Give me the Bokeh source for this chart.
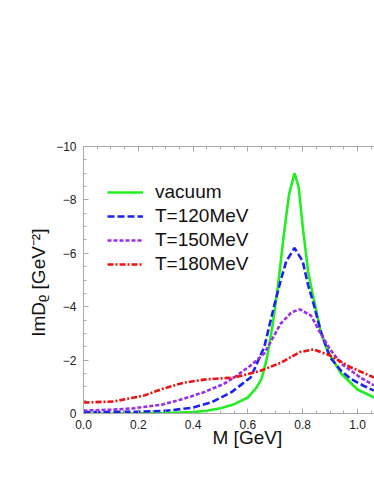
from bokeh.plotting import figure
from bokeh.models import (Range1d, FixedTicker, LinearAxis, Legend, LegendItem, Label)
from bokeh.embed import file_html
from bokeh.resources import INLINE

# ---- data; values are Im D_rho in GeV^-2 (negative) ----
m_vac = [0.0, 0.2, 0.3, 0.4, 0.45, 0.5, 0.55, 0.6, 0.63, 0.65, 0.67, 0.69, 0.71, 0.73,
         0.75, 0.77, 0.785, 0.80, 0.82, 0.84, 0.865, 0.89, 0.94, 1.0, 1.06]
d_vac = [0.0, 0.01, 0.02, 0.05, 0.1, 0.2, 0.35, 0.6, 0.95, 1.3, 2.1, 3.3, 4.8, 6.6,
         8.2, 9.0, 8.5, 7.0, 5.3, 4.3, 3.1, 2.35, 1.5, 0.9, 0.6]

m_120 = [0.0, 0.2, 0.3, 0.4, 0.47, 0.54, 0.61, 0.66, 0.695, 0.72, 0.74, 0.77, 0.8,
         0.82, 0.84, 0.865, 0.9, 0.94, 0.975, 1.02, 1.06]
d_120 = [0.05, 0.07, 0.1, 0.22, 0.43, 0.8, 1.35, 2.5, 4.0, 5.0, 5.7, 6.2, 5.7,
         4.8, 4.1, 3.1, 2.1, 1.6, 1.3, 1.05, 0.86]

m_150 = [0.0, 0.1, 0.18, 0.29, 0.365, 0.44, 0.51, 0.55, 0.61, 0.66, 0.72, 0.76, 0.79,
         0.83, 0.865, 0.9, 0.94, 1.01, 1.06]
d_150 = [0.11, 0.14, 0.19, 0.34, 0.55, 0.8, 1.1, 1.35, 1.8, 2.25, 3.37, 3.8, 3.9,
         3.67, 3.0, 2.4, 1.87, 1.35, 1.05]

m_180 = [0.0, 0.11, 0.22, 0.29, 0.365, 0.44, 0.55, 0.646, 0.72, 0.79, 0.84, 0.9, 0.975, 1.06]
d_180 = [0.41, 0.45, 0.67, 0.93, 1.15, 1.27, 1.35, 1.6, 1.9, 2.3, 2.4, 2.17, 1.73, 1.35]

series_names = ["vacuum", "T=120MeV", "T=150MeV", "T=180MeV"]
x_ticks = [0.0, 0.2, 0.4, 0.6, 0.8, 1.0]
y_ticks = [0, -2, -4, -6, -8, -10]
x_title = "M [GeV]"
y_title = "ImD\u1d68  [GeV\u207b\u00b2]"

FONT = "Liberation Sans"

p = figure(width=374, height=476, output_backend="svg", toolbar_location=None,
           x_range=Range1d(0.0, 1.062), y_range=Range1d(0, -10),
           min_border_left=83, min_border_right=0, min_border_top=146, min_border_bottom=63,
           background_fill_color="white", border_fill_color="white",
           x_axis_location="below", y_axis_location="left")
p.outline_line_color = None
p.xgrid.visible = False
p.ygrid.visible = False

styles = [
    dict(color="#22ee22", line_dash="solid"),
    dict(color="#1a22ee", line_dash="7 3"),
    dict(color="#9a2ee6", line_dash="4 2"),
    dict(color="#ee1111", line_dash="6 2 2 2"),
]
data = [(m_vac, d_vac), (m_120, d_120), (m_150, d_150), (m_180, d_180)]
renderers = []
for (mx, dy), st in zip(data, styles):
    r = p.line(mx, [-v for v in dy], line_width=2.6, line_color=st["color"],
               line_dash=st["line_dash"])
    renderers.append(r)

# axes
xminor = [round(0.05 * i, 2) for i in range(0, 22) if round(0.05 * i, 2) not in x_ticks]
yminor = [-0.5 * i for i in range(0, 21) if (-0.5 * i) not in y_ticks]

def style_axis(ax):
    ax.axis_line_color = "#aaaaaa"
    ax.major_tick_line_color = "#aaaaaa"
    ax.minor_tick_line_color = "#aaaaaa"
    ax.major_tick_in = 5
    ax.major_tick_out = 0
    ax.minor_tick_in = 3
    ax.minor_tick_out = 0
    ax.major_label_text_font = FONT
    ax.major_label_text_font_size = "12px"
    ax.major_label_text_color = "#222222"

xa = p.xaxis[0]
xa.ticker = FixedTicker(ticks=x_ticks, minor_ticks=xminor)
xa.major_label_overrides = {t: f"{t:.1f}" for t in x_ticks}
xa.major_label_standoff = 6
style_axis(xa)

ya = p.yaxis[0]
ya.ticker = FixedTicker(ticks=y_ticks, minor_ticks=yminor)
ya.major_label_overrides = {t: ("0" if t == 0 else "\u2212" + str(abs(t))) for t in y_ticks}
ya.major_label_standoff = 7
style_axis(ya)
ya.axis_label = y_title
ya.axis_label_text_font = FONT
ya.axis_label_text_font_size = "19px"
ya.axis_label_text_font_style = "normal"
ya.axis_label_text_color = "#111111"
ya.axis_label_standoff = 4

top = LinearAxis(ticker=FixedTicker(ticks=x_ticks, minor_ticks=xminor))
style_axis(top)
top.major_label_text_font_size = "0px"
top.major_label_text_alpha = 0
p.add_layout(top, "above")

# legend
legend = Legend(items=[LegendItem(label=n, renderers=[r]) for n, r in zip(series_names, renderers)],
                location=(24, 138), padding=0, margin=0, spacing=2,
                glyph_width=36, glyph_height=20, label_height=20, label_standoff=12,
                label_text_font=FONT, label_text_font_size="19px",
                label_text_color="#111111",
                background_fill_alpha=0, border_line_color=None)
p.add_layout(legend, "center")

# x title as a label in the bottom panel
p.add_layout(Label(x=129, y=15, x_units="screen", y_units="screen", text=x_title,
                   text_font=FONT, text_font_size="19px", text_color="#111111",
                   text_baseline="alphabetic", text_align="left"), "below")

open("out.html", "w").write(file_html(p, INLINE))
